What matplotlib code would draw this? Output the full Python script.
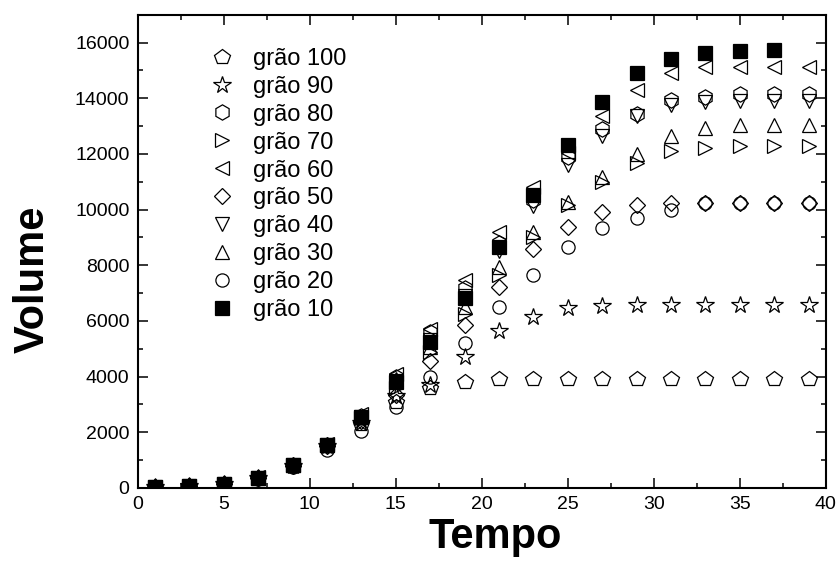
import numpy as np
import matplotlib.pyplot as plt
from matplotlib.ticker import MultipleLocator

plt.rcParams['font.family'] = ['Liberation Sans', 'DejaVu Sans']

# tempo (odd steps 1..39)
tempo = [1, 3, 5, 7, 9, 11, 13, 15, 17, 19, 21, 23, 25, 27, 29, 31, 33, 35, 37, 39]

g100 = [30, 60, 140, 360, 800, 1500, 2300, 3100, 3600, 3810, 3900, 3900, 3900, 3900, 3900, 3900, 3900, 3900, 3900, 3900]
g90 = [30, 60, 140, 360, 800, 1500, 2350, 3300, 3700, 4710, 5650, 6150, 6450, 6530, 6580, 6580, 6580, 6580, 6580, 6580]
g80 = [30, 60, 140, 370, 820, 1550, 2600, 4000, 5600, 7200, 8800, 10350, 11900, 12880, 13450, 13950, 14060, 14170, 14170, 14170]
g70 = [30, 60, 140, 370, 820, 1530, 2500, 3600, 4900, 6250, 7660, 9000, 10180, 11000, 11690, 12120, 12230, 12270, 12270, 12270]
g60 = [30, 60, 150, 380, 840, 1580, 2650, 4100, 5720, 7480, 9200, 10820, 12050, 13380, 14310, 14920, 15140, 15140, 15140, 15140]
g50 = [30, 60, 140, 360, 800, 1500, 2400, 3340, 4550, 5860, 7230, 8600, 9390, 9930, 10150, 10250, 10250, 10250, 10250, 10250]
g40 = [30, 60, 140, 370, 820, 1550, 2550, 3850, 5300, 6900, 8500, 10140, 11620, 12630, 13360, 13770, 13880, 13920, 13920, 13920]
g30 = [30, 60, 140, 370, 820, 1550, 2550, 3900, 5050, 6500, 7950, 9200, 10290, 11190, 12010, 12660, 12950, 13050, 13050, 13050]
g20 = [20, 50, 110, 320, 760, 1380, 2050, 2900, 4000, 5210, 6510, 7660, 8670, 9350, 9710, 10000, 10250, 10250, 10250, 10250]
g10 = [30, 60, 140, 370, 820, 1560, 2560, 3800, 5250, 6830, 8670, 10540, 12330, 13850, 14920, 15430, 15640, 15710, 15720]

series = [
    ('grão 100', g100, 'p', 11.5),
    ('grão 90', g90, '*', 13),
    ('grão 80', g80, 'h', 11),
    ('grão 70', g70, '>', 10.5),
    ('grão 60', g60, '<', 10.5),
    ('grão 50', g50, 'D', 8.5),
    ('grão 40', g40, 'v', 10.5),
    ('grão 30', g30, '^', 10.5),
    ('grão 20', g20, 'o', 9.5),
    ('grão 10', g10, 's', 9.5),
]

fig = plt.figure(figsize=(8.4, 5.7), dpi=100)
ax = fig.add_axes([0.164, 0.144, 0.819, 0.830])

for label, vals, mk, ms in series:
    filled = mk == 's'
    ax.plot(tempo[:len(vals)], vals, linestyle='none', marker=mk, markersize=ms,
            markerfacecolor='black' if filled else 'none',
            markeredgecolor='black', markeredgewidth=0.9, label=label)

ax.set_xlim(0, 40)
ax.set_ylim(0, 17000)
ax.xaxis.set_major_locator(MultipleLocator(5))
ax.xaxis.set_minor_locator(MultipleLocator(2.5))
ax.yaxis.set_major_locator(MultipleLocator(2000))
ax.yaxis.set_minor_locator(MultipleLocator(1000))
ax.tick_params(which='both', direction='in', top=True, right=True, width=1.1)
ax.tick_params(which='major', length=7, labelsize=14, pad=6)
ax.tick_params(which='minor', length=3.5)
for s in ax.spines.values():
    s.set_linewidth(1.5)

ax.set_xlabel('Tempo', fontsize=30, fontweight='bold')
ax.set_ylabel('Volume', fontsize=30, fontweight='bold')
ax.xaxis.set_label_coords(0.519, -0.062)
ax.yaxis.set_label_coords(-0.123, 0.44)

ax.legend(loc='upper left', bbox_to_anchor=(0.078, 0.965), frameon=False,
          fontsize=17, handlelength=1.2, handletextpad=0.7, labelspacing=0.25,
          borderpad=0.2)

plt.savefig('out.png', dpi=100)
